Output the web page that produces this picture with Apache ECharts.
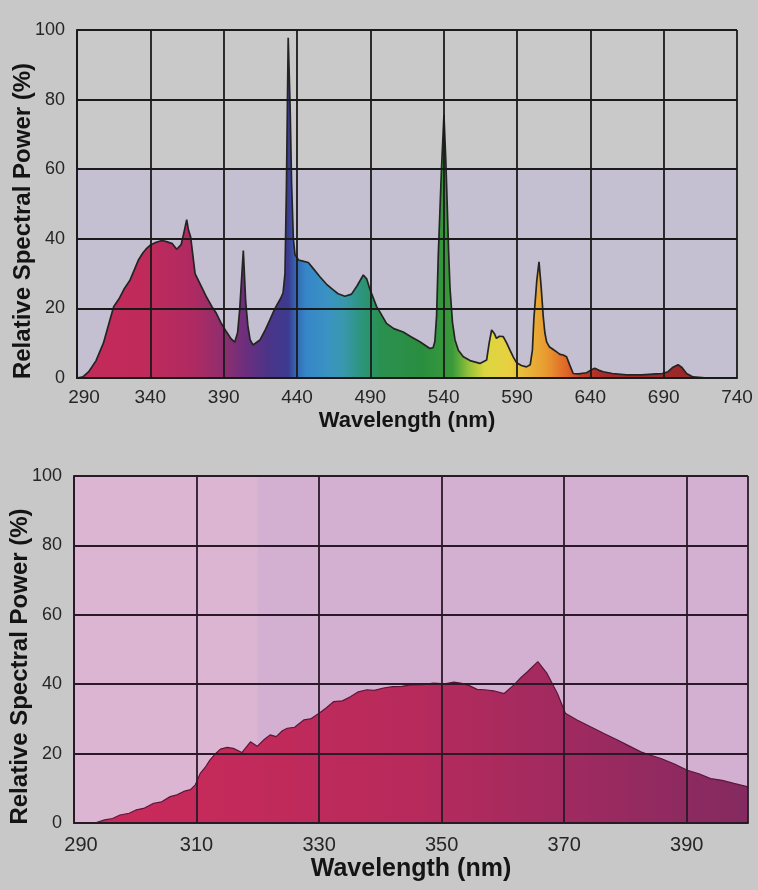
<!DOCTYPE html>
<html>
<head>
<meta charset="utf-8">
<script src="https://cdn.jsdelivr.net/npm/echarts@6/dist/echarts.min.js"></script>
<style>
html,body{margin:0;padding:0;background:#c8c8c8;}
#chart{width:758px;height:890px;}
</style>
</head>
<body>
<div id="chart"></div>
<script>
// ---------- DATA ----------
const topWavelength = [290,294,298,303,308,312,315,319,322,326,329,332,335,337,340,344,348,351,355,358,361,363,364.8,366,367.5,370.5,374,378,382,385,388,392,395,397.5,399.5,401,403.4,405,406.5,408,410,414.7,418,421.5,425,427,429,430.5,431.8,432.8,434,435.3,436.3,437.5,438.6,441,444,447.7,451,455.6,460,464.7,468,472.7,477.2,481,485.2,487.5,489.7,494.3,496.5,501,506,512.4,518,523.8,530.6,532.8,534,535.2,536.3,538.5,540.2,541.5,542.4,543.4,544.3,546,547.7,550,553.4,558,564.7,569.3,571,572.7,574.5,576,578,580.6,583,585.2,587.5,589.7,593,596.5,599,600.5,601.5,603.5,605,606.5,607.9,609,610.2,612,614.7,617,619.3,621.5,623.8,626,628.3,632,637.4,640,643,646,648.8,655,664.7,675,685,689,693,696,699.8,702.5,705.6,710,720,740];
const topPower = [0,0.3,1.8,5,10,16,20.5,23,25.5,28,31,34,36,37,38.2,39,39.5,39.2,38.6,37,38.3,42,45.5,42.5,40.5,30,27,23.5,20.5,18.6,16,13.2,11.3,10.3,13,20,36.6,22,15,11,9.5,10.9,13.5,16.7,20,21.5,23,24.5,30,55,97.8,78,56,40,35.5,33.9,33.6,33.2,31.5,29.1,27,25.3,24.2,23.5,24.1,26.5,29.6,28.5,25.5,20.5,19,15.7,14.2,13.2,11.8,10.4,8.5,8.7,10.5,18,35,60,75.6,62,50,36,26,16,11,8,6.1,5,4.2,5.2,10,13.8,12.8,11.4,12,11.9,10,8,6,4.4,3.6,3.2,3.8,8,17,28,33.4,26,17.6,13,10.4,9,8.2,7.5,6.8,6.6,6.1,3.7,1.3,1.2,1.5,2.2,2.8,2.2,1.8,1.3,0.9,0.9,1.2,1.3,1.8,3,3.8,3,1.3,0.3,0,0];

const bottomWavelength = [290,293.4,295,296.3,297.5,299,300.2,301.5,303,304.3,305.7,306.8,307.9,309,309.8,310.6,311.4,312.2,313,313.9,315,316,317.4,318.8,319.9,321,322,323,324,324.8,326,327.5,328.6,330,331.2,332.4,333.8,335.1,336.4,337.8,339,340.5,342,343.5,345,346.8,348.7,350.5,352,353.1,354.5,355.8,357,358.5,360.2,361.8,363,364,365.7,367.2,368.9,370.2,372.1,374.8,376.5,378.7,380.5,382.5,384,385.8,388,390.1,392,393.9,395.8,397.7,400];
const bottomPower = [0,0,0.9,1.3,2.3,2.8,3.8,4.3,5.7,6.1,7.6,8.1,9.1,9.6,11,14.3,16,18.2,19.8,21.3,21.8,21.5,20.3,23.4,22.1,24,25.4,24.9,26.6,27.3,27.6,29.7,30,31.6,33.2,35,35.2,36.4,37.8,38.4,38.2,38.9,39.3,39.4,39.8,39.9,40.3,40.1,40.6,40.3,39.6,38.5,38.4,38.1,37.3,39.8,42,43.6,46.5,43.1,37.3,31.6,29.7,27.3,25.8,23.9,22.3,20.5,19.6,18.6,17,15.2,14.2,12.8,12.3,11.4,10.4];

const topXTicks = [290,340,390,440,490,540,590,640,690,740];
const bottomXTicks = [290,310,330,350,370,390];
const bottomXLines = [290,310,330,350,370,390,400];
const yTicks = [0,20,40,60,80,100];

const yTitle = 'Relative Spectral Power (%)';
const xTitle = 'Wavelength (nm)';

// ---------- STYLE ----------
const spectrumStops = [
  [290,'#c42a5a'],[340,'#bf2a5c'],[370,'#ae2a62'],[390,'#8e2e6e'],[405,'#6c2e7e'],
  [420,'#4c3488'],[434,'#3c3a90'],[439,'#3466b0'],[446,'#3686c8'],[460,'#3a92c4'],
  [472,'#3898ac'],[485,'#2c9478'],[497,'#2a9050'],[525,'#2a8e40'],[546,'#3a9a3a'],
  [558,'#9cc43a'],[568,'#dcd640'],[585,'#e8d040'],[596,'#e8b83a'],[610,'#e89a30'],
  [624,'#e06428'],[634,'#c23c28'],[650,'#a82a2a'],[740,'#922828']
];
const FONT = '"Liberation Sans", Arial, Helvetica, sans-serif';
const GRID_LINE = '#1a1a1a';

function toGradient(stops, lo, hi) {
  return {
    type: 'linear', x: 0, y: 0, x2: 1, y2: 0,
    colorStops: stops.map(s => ({ offset: (s[0] - lo) / (hi - lo), color: s[1] }))
  };
}

function pairs(xs, ys) { return xs.map((x, i) => [x, ys[i]]); }

function firstShift(first, size, color) {
  return {
    formatter: v => (v === first ? '{f|' + v + '}' : String(v)),
    rich: { f: { padding: [0, 0, 0, 14], fontSize: size, color: color, fontFamily: FONT } }
  };
}

const chart = echarts.init(document.getElementById('chart'), null, { renderer: 'canvas' });

const yAxisBase = (gi, lineColor) => ({
  type: 'value', gridIndex: gi, min: yTicks[0], max: yTicks[yTicks.length - 1], interval: 20, z: 3,
  axisLine: { show: true, lineStyle: { color: lineColor, width: 2 } },
  axisTick: { show: false },
  splitLine: { show: true, lineStyle: { color: lineColor, width: 1.8 } },
  axisLabel: { fontSize: 18, color: '#262626', fontFamily: FONT, margin: 12 },
  name: yTitle, nameLocation: 'middle', nameRotate: 90, nameGap: 42, nameMoveOverlap: false,
  nameTextStyle: { fontSize: 24, fontWeight: 'bold', color: '#141414', fontFamily: FONT, padding: [0, 34, 0, 0] }
});

const option = {
  backgroundColor: '#c8c8c8',
  animation: false,
  grid: [
    { left: 77, top: 30, width: 660, height: 348, show: true, borderWidth: 0, backgroundColor: '#c9c9c9', outerBoundsMode: 'none', containLabel: false },
    { left: 74, top: 476, width: 674, height: 347, show: true, borderWidth: 0, backgroundColor: '#d3afd2', outerBoundsMode: 'none', containLabel: false }
  ],
  xAxis: [
    {
      type: 'value', gridIndex: 0, min: 290, max: 740, z: 3,
      axisLine: { show: true, lineStyle: { color: GRID_LINE, width: 2 } },
      axisTick: { show: false, customValues: topXTicks },
      splitLine: { show: true, lineStyle: { color: GRID_LINE, width: 1.8 } },
      axisLabel: Object.assign({ customValues: topXTicks, fontSize: 19, color: '#262626', fontFamily: FONT, margin: 10 },
        firstShift(290, 19, '#262626')),
      name: xTitle, nameLocation: 'middle', nameGap: 32, nameMoveOverlap: false,
      nameTextStyle: { fontSize: 22, fontWeight: 'bold', color: '#141414', fontFamily: FONT }
    },
    {
      type: 'value', gridIndex: 1, min: 290, max: 400, z: 3,
      axisLine: { show: true, lineStyle: { color: '#2a1a28', width: 2 } },
      axisTick: { show: false, customValues: bottomXLines },
      splitLine: { show: true, lineStyle: { color: '#2a1a28', width: 1.8 } },
      axisLabel: Object.assign({ customValues: bottomXTicks, fontSize: 20, color: '#262626', fontFamily: FONT, margin: 12 },
        firstShift(290, 20, '#262626')),
      name: xTitle, nameLocation: 'middle', nameGap: 34, nameMoveOverlap: false,
      nameTextStyle: { fontSize: 25, fontWeight: 'bold', color: '#141414', fontFamily: FONT }
    }
  ],
  yAxis: [ yAxisBase(0, GRID_LINE), yAxisBase(1, '#2a1a28') ],
  series: [
    {
      type: 'line', xAxisIndex: 0, yAxisIndex: 0, z: 2,
      data: pairs(topWavelength, topPower),
      symbol: 'none', smooth: false,
      lineStyle: { color: '#242422', width: 1.7 },
      areaStyle: { color: toGradient(spectrumStops, 290, 740), opacity: 1 },
      markArea: {
        silent: true,
        itemStyle: { color: '#c4c0d1' },
        data: [[{ yAxis: 0 }, { yAxis: 60 }]]
      }
    },
    {
      type: 'line', xAxisIndex: 1, yAxisIndex: 1, z: 2,
      data: pairs(bottomWavelength, bottomPower),
      symbol: 'none', smooth: false,
      lineStyle: { color: '#5a1838', width: 1.2 },
      areaStyle: {
        opacity: 1,
        color: { type: 'linear', x: 0, y: 0, x2: 1, y2: 0, colorStops: [
          { offset: 0, color: '#cc2a5a' }, { offset: 0.5, color: '#b82a5c' },
          { offset: 0.75, color: '#9e2a60' }, { offset: 1, color: '#842a60' } ] }
      },
      markArea: {
        silent: true,
        itemStyle: { color: '#dcb5d2' },
        data: [[{ xAxis: 290 }, { xAxis: 320 }]]
      }
    }
  ]
};

chart.setOption(option);
</script>
</body>
</html>
